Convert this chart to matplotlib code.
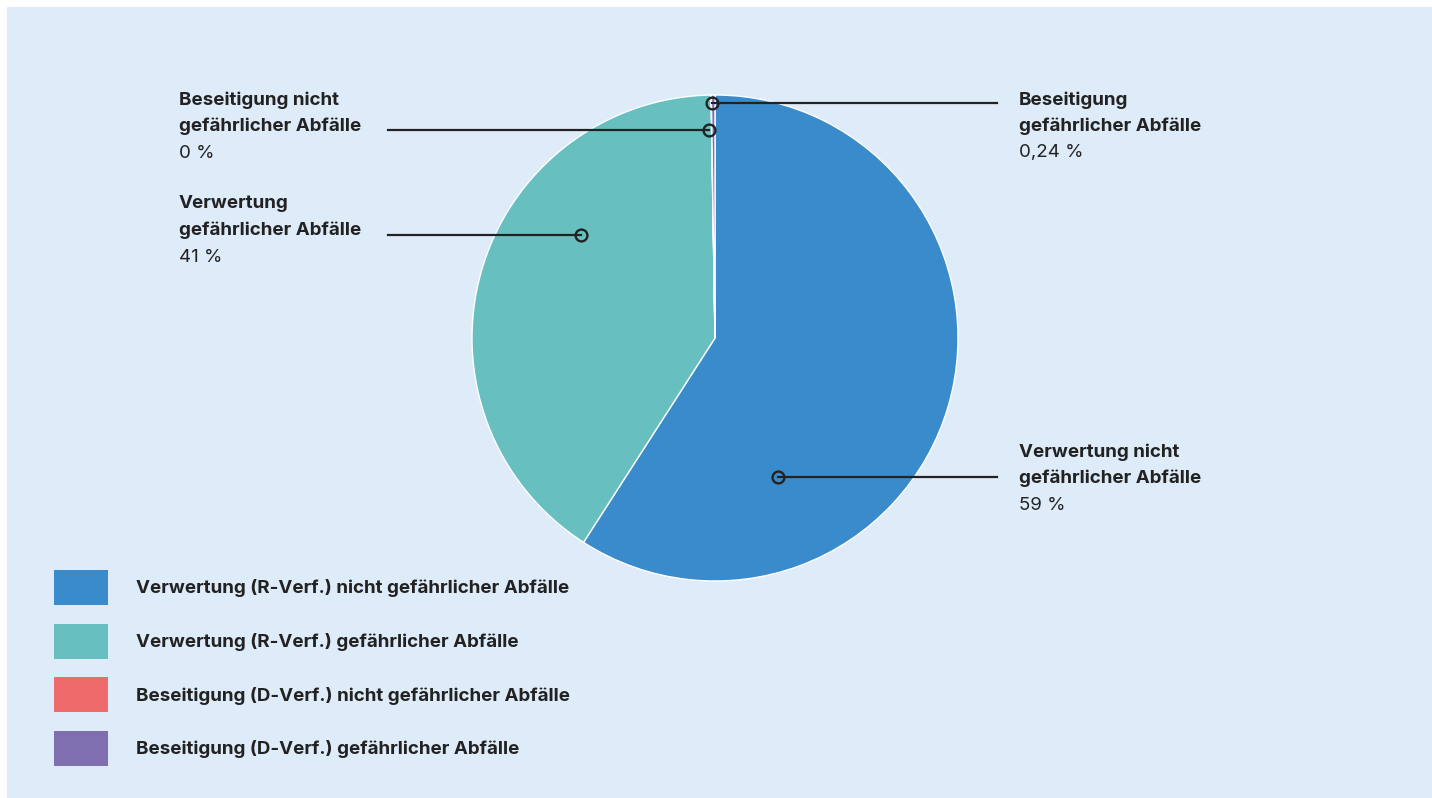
import matplotlib.pyplot as plt
from matplotlib.patches import Patch, Rectangle
import numpy as np

plt.rcParams['font.family'] = ['Inter', 'DejaVu Sans']

# data
legend_labels = ['Verwertung (R-Verf.) nicht gefährlicher Abfälle',
                 'Verwertung (R-Verf.) gefährlicher Abfälle',
                 'Beseitigung (D-Verf.) nicht gefährlicher Abfälle',
                 'Beseitigung (D-Verf.) gefährlicher Abfälle']
short_labels = ['Verwertung nicht\ngefährlicher Abfälle',
                'Verwertung\ngefährlicher Abfälle',
                'Beseitigung nicht\ngefährlicher Abfälle',
                'Beseitigung\ngefährlicher Abfälle']
values = [59.1, 40.64, 0.02, 0.24]
pct_text = ['59 %', '41 %', '0 %', '0,24 %']
colors = ['#3a8bcb', '#67c0bf', '#ef6b6b', '#7f6fb1']

bg = '#deebf8'
txt = '#222222'
fs = 13.5

fig = plt.figure(figsize=(14.32, 7.98), dpi=100)
fig.patches.append(Rectangle((7 / 1432, 0), 1, 1 - 7 / 798, transform=fig.transFigure,
                             facecolor=bg, edgecolor='none', zorder=-1))

# pie placed by pixel centre / radius
cx, cy, R = 715, 338, 243
W, H = 1432, 798
ax = fig.add_axes([(cx - R) / W, (H - cy - R) / H, 2 * R / W, 2 * R / H])
ax.pie(values, colors=colors, startangle=90, counterclock=False,
       wedgeprops=dict(edgecolor='white', linewidth=1.0))
ax.set_xlim(-1, 1)
ax.set_ylim(-1, 1)
ax.set_aspect('equal')
ax.axis('off')


def to_data(px, py):
    return (px - cx) / R, (cy - py) / R


# label layout: marker (angle deg, radius frac), line end x px, text x px, first line y px
layout = [
    (-65.6, 0.627, 997, 1019, 451),
    (142.5, 0.695, 388, 179, 203),
    (91.6, 0.856, 388, 179, 99),
    (90.7, 0.967, 997, 1019, 99),
]

for i, (ang, rf, lx, tx, ty) in enumerate(layout):
    mx = rf * np.cos(np.radians(ang))
    my = rf * np.sin(np.radians(ang))
    ex, _ = to_data(lx, 0)
    ax.plot([mx, ex], [my, my], color=txt, lw=1.6, clip_on=False, zorder=5)
    ax.plot(mx, my, 'o', ms=8.5, mfc='none', mec=txt, mew=1.7, clip_on=False, zorder=6)
    lines = short_labels[i].split('\n')
    for j, s in enumerate(lines):
        x0, y0 = to_data(tx, ty + 1 + 26.5 * j)
        ax.text(x0, y0, s, ha='left', va='center', fontsize=fs,
                fontweight='bold', color=txt, clip_on=False)
    x0, y0 = to_data(tx, ty + 54)
    ax.text(x0, y0, pct_text[i], ha='left', va='center', fontsize=fs,
            color=txt, clip_on=False)

handles = [Patch(facecolor=c, edgecolor='none') for c in colors]
leg = fig.legend(handles, legend_labels, loc='upper left',
                 bbox_to_anchor=(54 / W, 1 - 570 / H), frameon=False,
                 borderpad=0, borderaxespad=0, fontsize=fs,
                 handlelength=2.88, handleheight=2.49, handletextpad=1.49,
                 labelspacing=1.0)
for t in leg.get_texts():
    t.set_fontweight('bold')
    t.set_color(txt)

fig.savefig('out.png', dpi=100, facecolor='white')
